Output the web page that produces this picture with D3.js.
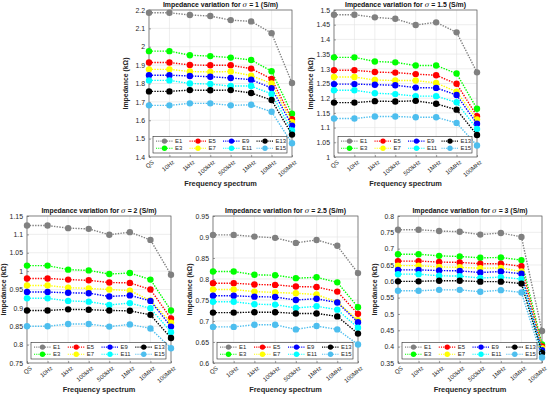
<!DOCTYPE html>
<html>
<head>
<meta charset="utf-8">
<script src="https://cdn.jsdelivr.net/npm/d3@7"></script>
<style>
  body { margin: 0; background: #fff; }
  text { font-family: "Liberation Sans", Arial, sans-serif; }
</style>
</head>
<body>
<div id="chart"></div>
<script>
// data
var categories = ["QS", "10Hz", "1kHz", "100kHz", "500kHz", "1MHz", "10MHz", "100MHz"];
var seriesNames = ["E1", "E3", "E5", "E7", "E9", "E11", "E13", "E15"];
var seriesColors = ["#808080", "#00ff00", "#ff0000", "#ffff00", "#0000ff", "#00ffff", "#000000", "#4dbeee"];

var sigmaLabels = ["1", "1.5", "2", "2.5", "3"];

var sigma1 = [
    [2.185, 2.185, 2.173, 2.167, 2.145, 2.138, 2.074, 1.803],
    [1.976, 1.976, 1.954, 1.949, 1.941, 1.928, 1.867, 1.635],
    [1.914, 1.914, 1.901, 1.899, 1.899, 1.881, 1.825, 1.606],
    [1.877, 1.877, 1.865, 1.863, 1.865, 1.843, 1.800, 1.590],
    [1.845, 1.845, 1.841, 1.837, 1.830, 1.821, 1.775, 1.571],
    [1.817, 1.817, 1.800, 1.797, 1.786, 1.786, 1.743, 1.544],
    [1.757, 1.757, 1.764, 1.763, 1.764, 1.748, 1.710, 1.522],
    [1.681, 1.681, 1.692, 1.692, 1.681, 1.684, 1.646, 1.475]
];
var sigma15 = [
    [1.484, 1.484, 1.475, 1.470, 1.449, 1.458, 1.424, 1.288],
    [1.339, 1.339, 1.325, 1.322, 1.311, 1.311, 1.284, 1.164],
    [1.295, 1.295, 1.289, 1.287, 1.282, 1.278, 1.249, 1.139],
    [1.272, 1.272, 1.262, 1.260, 1.260, 1.252, 1.222, 1.128],
    [1.248, 1.248, 1.246, 1.244, 1.236, 1.235, 1.211, 1.113],
    [1.227, 1.227, 1.217, 1.214, 1.207, 1.207, 1.186, 1.095],
    [1.185, 1.185, 1.190, 1.189, 1.191, 1.181, 1.161, 1.075],
    [1.131, 1.131, 1.138, 1.138, 1.135, 1.135, 1.116, 1.039]
];
var sigma2 = [
    [1.124, 1.124, 1.117, 1.115, 1.099, 1.106, 1.085, 0.990],
    [1.015, 1.015, 1.004, 1.002, 0.992, 0.995, 0.977, 0.893],
    [0.980, 0.980, 0.977, 0.975, 0.969, 0.968, 0.950, 0.871],
    [0.961, 0.961, 0.955, 0.953, 0.950, 0.947, 0.920, 0.860],
    [0.943, 0.943, 0.941, 0.940, 0.931, 0.934, 0.919, 0.849],
    [0.926, 0.926, 0.919, 0.917, 0.908, 0.913, 0.899, 0.834],
    [0.893, 0.893, 0.896, 0.895, 0.893, 0.892, 0.881, 0.818],
    [0.850, 0.850, 0.856, 0.856, 0.849, 0.855, 0.844, 0.790]
];
var sigma25 = [
    [0.905, 0.905, 0.901, 0.898, 0.886, 0.893, 0.879, 0.814],
    [0.818, 0.818, 0.810, 0.809, 0.802, 0.804, 0.792, 0.733],
    [0.790, 0.790, 0.787, 0.786, 0.782, 0.781, 0.770, 0.717],
    [0.775, 0.775, 0.770, 0.768, 0.766, 0.763, 0.745, 0.702],
    [0.760, 0.760, 0.758, 0.757, 0.750, 0.753, 0.744, 0.697],
    [0.746, 0.746, 0.740, 0.739, 0.731, 0.735, 0.727, 0.684],
    [0.720, 0.720, 0.721, 0.721, 0.718, 0.718, 0.711, 0.670],
    [0.686, 0.686, 0.691, 0.691, 0.680, 0.688, 0.680, 0.644]
];
var sigma3 = [
    [0.758, 0.758, 0.754, 0.752, 0.743, 0.748, 0.736, 0.448],
    [0.683, 0.683, 0.678, 0.676, 0.672, 0.673, 0.665, 0.407],
    [0.662, 0.662, 0.659, 0.658, 0.654, 0.654, 0.646, 0.401],
    [0.648, 0.648, 0.644, 0.643, 0.640, 0.641, 0.630, 0.395],
    [0.635, 0.635, 0.633, 0.632, 0.627, 0.630, 0.623, 0.389],
    [0.622, 0.622, 0.617, 0.616, 0.610, 0.613, 0.607, 0.381],
    [0.600, 0.600, 0.602, 0.602, 0.599, 0.599, 0.593, 0.381],
    [0.571, 0.571, 0.574, 0.574, 0.568, 0.573, 0.566, 0.367]
];
var allValues = [sigma1, sigma15, sigma2, sigma25, sigma3];

// y axis ranges and tick steps per panel
var yDomains = [[1.4, 2.2], [1, 1.5], [0.75, 1.15], [0.6, 0.95], [0.35, 0.8]];
var yStep = [0.1, 0.05, 0.05, 0.05, 0.05];

// panel boxes (plot area)
var panels = [
    {x: 149, y: 10, w: 143, h: 147},
    {x: 334, y: 10, w: 143, h: 147},
    {x: 27, y: 216, w: 144, h: 147},
    {x: 213, y: 216, w: 145, h: 147},
    {x: 398, y: 216, w: 144, h: 147}
];

var svg = d3.select("#chart")
    .append("svg")
    .attr("width", 550)
    .attr("height", 398);

panels.forEach(function(p, k) {
    var g = svg.append("g")
        .attr("transform", `translate(${p.x}, ${p.y})`);

    var xScale = d3.scalePoint()
        .domain(categories)
        .range([0, p.w]);

    var yScale = d3.scaleLinear()
        .domain(yDomains[k])
        .range([p.h, 0]);

    var d0 = yDomains[k][0], d1 = yDomains[k][1];
    var n = Math.round((d1 - d0) / yStep[k]);
    var yTicks = d3.range(n + 1).map(i => +(d0 + i * yStep[k]).toFixed(2));

    // white background
    g.append("rect")
        .attr("width", p.w)
        .attr("height", p.h)
        .attr("fill", "#fff");

    // grid
    g.selectAll(".gy")
        .data(yTicks)
        .enter()
        .append("line")
        .attr("x1", 0)
        .attr("x2", p.w)
        .attr("y1", d => yScale(d))
        .attr("y2", d => yScale(d))
        .attr("stroke", "#e3e3e3")
        .attr("stroke-width", 0.6);

    g.selectAll(".gx")
        .data(categories)
        .enter()
        .append("line")
        .attr("x1", d => xScale(d))
        .attr("x2", d => xScale(d))
        .attr("y1", 0)
        .attr("y2", p.h)
        .attr("stroke", "#e3e3e3")
        .attr("stroke-width", 0.6);

    // axes
    var leftAxis = d3.axisLeft(yScale)
        .tickValues(yTicks)
        .tickSize(-2)
        .tickPadding(4)
        .tickFormat(d => String(d));

    var bottomAxis = d3.axisBottom(xScale)
        .tickSize(-2)
        .tickPadding(3);

    var yAxis = g.append("g").call(leftAxis);
    yAxis.select(".domain").remove();
    yAxis.selectAll("line").attr("stroke", "#444").attr("stroke-width", 0.5);
    yAxis.selectAll("text")
        .attr("font-size", "6.9px")
        .attr("fill", "#262626");

    var xAxis = g.append("g")
        .attr("transform", `translate(0, ${p.h})`)
        .call(bottomAxis);
    xAxis.select(".domain").remove();
    xAxis.selectAll("line").attr("stroke", "#444").attr("stroke-width", 0.5);
    xAxis.selectAll("text")
        .attr("font-size", "6px")
        .attr("fill", "#262626")
        .attr("text-anchor", "end")
        .attr("dy", "0.6em")
        .attr("transform", "rotate(-40) translate(0, 1)");

    // frame
    g.append("rect")
        .attr("width", p.w)
        .attr("height", p.h)
        .attr("fill", "none")
        .attr("stroke", "#5a5a5a")
        .attr("stroke-width", 0.7);

    // series
    var line = d3.line()
        .x((d, i) => xScale(categories[i]))
        .y(d => yScale(d));

    allValues[k].forEach(function(vals, s) {
        g.append("path")
            .datum(vals)
            .attr("d", line)
            .attr("fill", "none")
            .attr("stroke", seriesColors[s])
            .attr("stroke-width", 1.4)
            .attr("stroke-dasharray", "1.4,1.3");

        g.selectAll(".m" + s)
            .data(vals)
            .enter()
            .append("circle")
            .attr("cx", (d, i) => xScale(categories[i]))
            .attr("cy", d => yScale(d))
            .attr("r", 3.2)
            .attr("fill", seriesColors[s]);
    });

    // legend
    var lg = g.append("g")
        .attr("transform", `translate(4, ${p.h - 20.5})`);
    var legW = p.w - 9;
    lg.append("rect")
        .attr("width", legW)
        .attr("height", 16.5)
        .attr("fill", "#fff")
        .attr("stroke", "#262626")
        .attr("stroke-width", 0.6);

    var colW = legW / 4;
    seriesNames.forEach(function(name, s) {
        var col = Math.floor(s / 2), row = s % 2;
        var item = lg.append("g")
            .attr("transform", `translate(${3 + col * colW}, ${4.6 + row * 7.2})`);
        item.append("line")
            .attr("x1", 0)
            .attr("x2", 17)
            .attr("stroke", seriesColors[s])
            .attr("stroke-width", 1.1)
            .attr("stroke-dasharray", "1.1,1.1");
        item.append("circle")
            .attr("cx", 8.5)
            .attr("r", 2.7)
            .attr("fill", seriesColors[s]);
        item.append("text")
            .attr("x", 19)
            .attr("dy", "0.35em")
            .attr("font-size", "5.9px")
            .attr("fill", "#262626")
            .text(name);
    });

    // title
    var title = g.append("text")
        .attr("x", p.w / 2)
        .attr("y", -3)
        .attr("text-anchor", "middle")
        .attr("font-size", "6.9px")
        .attr("font-weight", "bold")
        .attr("fill", "#111");
    title.append("tspan").text("Impedance variation for ");
    title.append("tspan")
        .attr("font-family", "DejaVu Serif, serif")
        .attr("font-style", "italic")
        .attr("font-weight", "normal")
        .text("\u03c3");
    title.append("tspan").text(` = ${sigmaLabels[k]} (S/m)`);

    // axis labels
    g.append("text")
        .attr("x", p.w / 2)
        .attr("y", p.h + 29)
        .attr("text-anchor", "middle")
        .attr("font-size", "7.4px")
        .attr("font-weight", "bold")
        .attr("fill", "#262626")
        .text("Frequency spectrum");

    g.append("text")
        .attr("transform", `translate(-21, ${p.h / 2}) rotate(-90)`)
        .attr("text-anchor", "middle")
        .attr("font-size", "6.9px")
        .attr("font-weight", "bold")
        .attr("fill", "#262626")
        .text("Impedance (k\u03a9)");
});
</script>
</body>
</html>
